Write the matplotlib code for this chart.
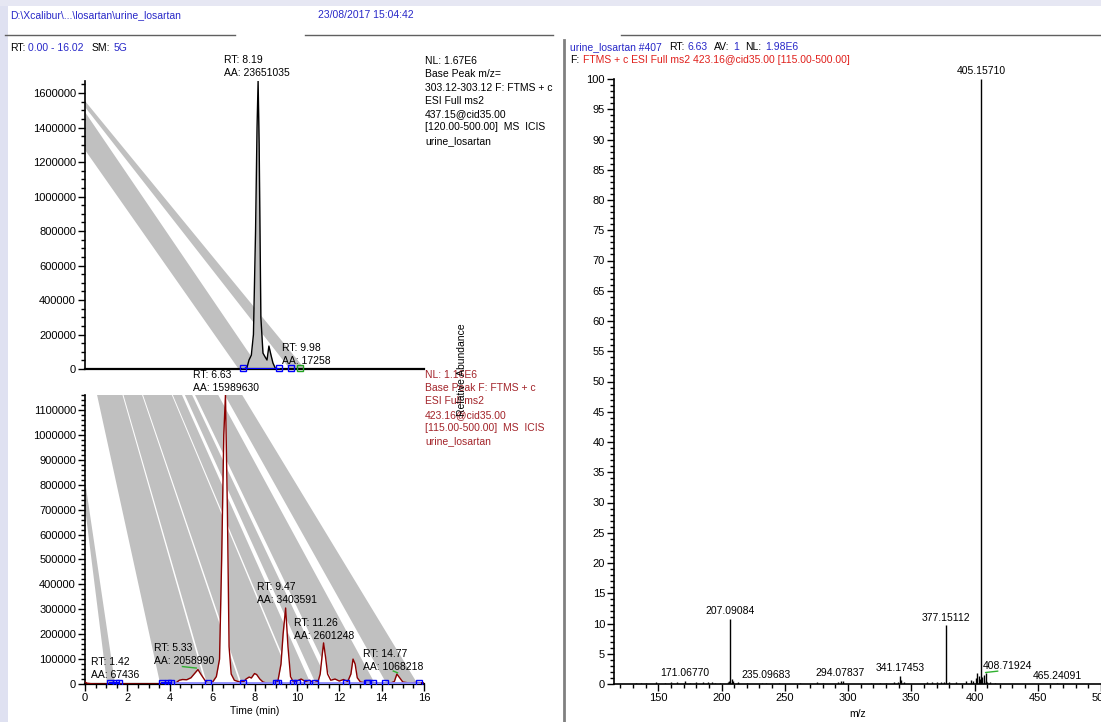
import matplotlib
matplotlib.use("Agg")
import matplotlib.pyplot as plt
from matplotlib.ticker import MultipleLocator
from matplotlib.patches import Polygon, Rectangle
from matplotlib.lines import Line2D

plt.rcParams['font.family'] = ['Liberation Sans', 'DejaVu Sans']
plt.rcParams['font.size'] = 7.5

W, H = 1101, 722

BLUE = '#2828c8'
DKRED = '#a3242a'
RED = '#e0201c'
GREY = '#c0c0c0'
TRACE_RED = '#8b0000'

# ---- upper chromatogram: base peak m/z 303.12 ----
bp_time = [0, 7.5, 7.65, 7.74, 7.85, 7.95, 8.05, 8.12, 8.17, 8.22, 8.3, 8.4,
           8.5, 8.59, 8.68, 8.78, 8.87, 9.0, 16.0]
bp_int = [0, 0, 10000, 52000, 80000, 200000, 800000, 1400000, 1670000, 1300000,
          300000, 92000, 70000, 52000, 133000, 80000, 35000, 0, 0]
bp_peak_rt = [8.19, 9.98]
bp_peak_aa = [23651035, 17258]
bp_squares = [7.46, 9.17, 9.73]
bp_green = [10.15]
bp_baseline = [7.46, 9.17]

# ---- lower chromatogram: base peak 423.16 ----
lo_time = [0, 0.1, 0.3, 0.6, 1.0, 1.3, 1.42, 1.55, 1.8, 2.5, 3.5, 4.0, 4.3, 4.45,
           4.6, 4.8, 5.0, 5.15, 5.33, 5.5, 5.7, 5.85, 6.0, 6.2, 6.35, 6.45, 6.55,
           6.63, 6.72, 6.8, 6.9, 7.05, 7.3, 7.5, 7.6, 7.75, 7.85, 8.0, 8.1, 8.25,
           8.4, 8.6, 8.9, 9.1, 9.25, 9.35, 9.47, 9.58, 9.7, 9.85, 10.0, 10.2,
           10.4, 10.6, 10.8, 11.0, 11.1, 11.2, 11.26, 11.35, 11.45, 11.6, 11.8,
           12.0, 12.2, 12.4, 12.55, 12.65, 12.75, 12.85, 13.0, 13.3, 13.6, 14.0,
           14.4, 14.6, 14.72, 14.85, 15.0, 15.3, 15.6, 16.0]
lo_int = [8000, 3000, 1000, 0, 0, 1500, 2500, 1500, 500, 0, 0, 1000, 5000, 15000,
          18000, 17000, 25000, 40000, 58000, 35000, 10000, 2000, 5000, 30000,
          100000, 500000, 1000000, 1160000, 700000, 150000, 40000, 15000, 8000,
          10000, 20000, 28000, 24000, 42000, 38000, 20000, 8000, 3000, 1000,
          10000, 80000, 200000, 305000, 150000, 30000, 5000, 12000, 20000, 10000,
          15000, 5000, 10000, 40000, 120000, 165000, 110000, 40000, 15000, 20000,
          12000, 18000, 10000, 40000, 100000, 80000, 25000, 8000, 4000, 5000,
          2000, 3000, 10000, 40000, 25000, 8000, 4000, 6000, 5000]
lo_peak_rt = [1.42, 5.33, 6.63, 9.47, 11.26, 14.77]
lo_peak_aa = [67436, 2058990, 15989630, 3403591, 2601248, 1068218]
lo_squares = [1.2, 1.45, 1.6, 3.65, 3.9, 4.05, 5.8, 7.48, 9.0, 9.12, 9.8, 10.0,
              10.5, 10.85, 12.3, 13.3, 13.38, 13.6, 14.15, 15.75]
lo_baseline_dark = [(1.2, 1.6), (3.65, 4.05)]
lo_baseline_light = (4.05, 15.75)

# ---- grey band artefacts (data units) ----
# upper: (I at t=0 upper edge, t at I=0 upper edge, t at I=0 lower edge, I at t=0 lower edge)
up_bands = [(1.554e6, 10.38, 9.67, 1.519e6),
            (1.49e6, 8.25, 7.25, 1.27e6)]
# lower fan: left edge (top t, bottom t), right edge (top t, bottom t)
fan_left = (0.57, 3.55)
fan_right = (7.42, 15.7)
fan_grey = [(0.0, 0.175), (0.182, 0.31), (0.317, 0.515), (0.522, 0.585),
            (0.605, 0.655), (0.675, 0.835), (0.88, 1.0)]
lo_side_band = (0.816e6, 1.42, 1.04, 0.708e6)

# ---- MS2 spectrum ----
mz = [132.1, 136.0, 140.2, 148.1, 155.0, 160.1, 165.1, 171.0677, 175.1, 180.1,
      185.1, 189.1, 192.1, 195.0, 199.1, 205.1, 206.1, 207.09084, 208.1, 209.1,
      213.1, 220.0, 232.1, 235.09683, 245.1, 262.1, 275.1, 280.1, 292.1,
      294.07837, 296.1, 318.1, 325.1, 330.1, 336.2, 339.2, 341.17453, 342.2,
      344.2, 362.2, 366.1, 370.2, 373.2, 376.1, 377.15112, 380.1, 385.2, 393.2,
      397.2, 399.2, 401.2, 402.2, 403.2, 404.2, 405.1571, 406.2, 407.2,
      408.71924, 409.2, 410.2, 412.2, 416.2, 465.24091]
rel_ab = [0.2, 0.2, 0.2, 0.3, 0.2, 0.3, 0.3, 0.45, 0.2, 0.3, 0.3, 0.4, 0.3, 0.2,
          0.2, 0.4, 0.5, 10.8, 0.8, 0.5, 0.3, 0.2, 0.2, 0.15, 0.2, 0.2, 0.3, 0.2,
          0.3, 0.5, 0.5, 0.2, 0.2, 0.2, 0.3, 0.4, 1.4, 0.6, 0.3, 0.3, 0.3, 0.4,
          0.3, 0.3, 9.7, 0.3, 0.3, 0.5, 0.6, 0.5, 1.0, 1.8, 1.4, 0.9, 100, 1.2,
          1.5, 1.8, 0.5, 0.4, 0.3, 0.2, 0.1]
labelled_mz = [171.0677, 207.09084, 235.09683, 294.07837, 341.17453, 377.15112,
               405.1571, 465.24091]


def fx(x):
    return x / W


def fy(y):
    return 1 - y / H


def box(l, t, r, b):
    return [l / W, 1 - b / H, (r - l) / W, (b - t) / H]


def style_axes(ax):
    for s in ['top', 'right']:
        ax.spines[s].set_visible(False)
    ax.spines['left'].set_linewidth(1.2)
    ax.spines['bottom'].set_linewidth(1.6)
    ax.tick_params(which='major', direction='out', length=5, width=1, pad=1.5,
                   labelsize=8)
    ax.tick_params(which='minor', direction='out', length=3, width=1)
    ax.patch.set_alpha(0)


fig = plt.figure(figsize=(W / 100, H / 100), dpi=100)
fig.patch.set_facecolor('white')
renderer = fig.canvas.get_renderer()


def rich(x, y, parts, size=7.5):
    # coloured pieces on one line; gap = pixels left after each piece
    for s, c, gap in parts:
        t = fig.text(fx(x), fy(y), s, color=c, fontsize=size, va='center', ha='left')
        x = t.get_window_extent(renderer).x1 + gap


fig.patches.append(Rectangle((0, 0), 8 / W, 1, transform=fig.transFigure,
                             facecolor='#dfe1f1', edgecolor='none'))
fig.patches.append(Rectangle((0, 1 - 6 / H), 1, 6 / H, transform=fig.transFigure,
                             facecolor='#e6e7f3', edgecolor='none'))

# separators
fig.add_artist(Line2D([fx(564), fx(564)], [fy(40), 0], color='#808080', lw=2))
for x0, x1 in [(5, 235), (305, 553), (621, 1101)]:
    fig.add_artist(Line2D([fx(x0), fx(x1)], [fy(35), fy(35)], color='#606060', lw=1))

# ---------------- upper chromatogram ----------------
ax1 = fig.add_axes(box(85, 81, 424, 369))
ax1.set_xlim(0, 16)
ax1.set_ylim(0, 1.67e6)
for ia, ta, tb, ib in up_bands:
    ax1.add_patch(Polygon([(0, ia), (ta, 0), (tb, 0), (0, ib)], closed=True,
                          facecolor=GREY, edgecolor='none', zorder=1))
ax1.fill_between(bp_time, bp_int, 0, color=GREY, lw=0, zorder=2)
ax1.plot(bp_time, bp_int, color='black', lw=1, zorder=3)
ax1.plot(bp_baseline, [0, 0], color='blue', lw=1.5, zorder=4)
ax1.plot(bp_squares, [8000] * len(bp_squares), 's', ms=4.5, mfc='none',
         mec='blue', mew=1, zorder=5, clip_on=False)
ax1.plot(bp_green, [8000], 's', ms=4.5, mfc='none', mec='#20a020', mew=1,
         zorder=5, clip_on=False)
style_axes(ax1)
ax1.yaxis.set_major_locator(MultipleLocator(200000))
ax1.yaxis.set_minor_locator(MultipleLocator(50000))
ax1.yaxis.set_major_formatter(plt.FuncFormatter(lambda v, p: f"{v:.0f}"))
ax1.tick_params(axis='x', which='both', bottom=False, labelbottom=False)

# ---------------- lower chromatogram ----------------
ax2 = fig.add_axes(box(85, 395, 424, 684))
ax2.set_xlim(0, 16)
ytop = 1.16e6
ax2.set_ylim(0, ytop)
lt, lb = fan_left
rt, rb = fan_right
for f0, f1 in fan_grey:
    pts = [(lt + f0 * (rt - lt), ytop), (lt + f1 * (rt - lt), ytop),
           (lb + f1 * (rb - lb), 0), (lb + f0 * (rb - lb), 0)]
    ax2.add_patch(Polygon(pts, closed=True, facecolor=GREY, edgecolor='none',
                          zorder=1))
ia, ta, tb, ib = lo_side_band
ax2.add_patch(Polygon([(0, ia), (ta, 0), (tb, 0), (0, ib)], closed=True,
                      facecolor=GREY, edgecolor='none', zorder=1))
ax2.fill_between(lo_time, lo_int, 0, color='white', lw=0, zorder=2)
ax2.plot(lo_time, lo_int, color=TRACE_RED, lw=1, zorder=3)
ax2.plot(lo_baseline_light, [3000, 3000], color='#8c8cff', lw=2, zorder=4)
for a, b in lo_baseline_dark:
    ax2.plot([a, b], [3000, 3000], color='blue', lw=1.5, zorder=4)
ax2.plot(lo_squares, [6000] * len(lo_squares), 's', ms=4.5, mfc='none',
         mec='blue', mew=1, zorder=5)
ax2.plot([4.6, 5.25], [70000, 64000], color='#30b030', lw=1, zorder=5)
ax2.plot([14.55, 14.75], [52000, 45000], color='#30b030', lw=1, zorder=5)
style_axes(ax2)
ax2.yaxis.set_major_locator(MultipleLocator(100000))
ax2.yaxis.set_minor_locator(MultipleLocator(20000))
ax2.yaxis.set_major_formatter(plt.FuncFormatter(lambda v, p: f"{v:.0f}"))
ax2.xaxis.set_major_locator(MultipleLocator(2))
ax2.xaxis.set_minor_locator(MultipleLocator(0.5))
ax2.set_xlabel('Time (min)', fontsize=7.5, labelpad=2)

# ---------------- spectrum ----------------
ax3 = fig.add_axes(box(614, 79, 1101, 684))
ax3.set_xlim(115, 500)
ax3.set_ylim(0, 100)
ax3.vlines(mz, 0, rel_ab, color='black', lw=1)
for m, a in zip(mz, rel_ab):
    if m in labelled_mz:
        ax3.annotate(f"{m:.5f}", (m, a), xytext=(0, 2), textcoords='offset points',
                     ha='center', va='bottom', fontsize=7.5)
ax3.annotate(f"{408.71924:.5f}", (408.71924, 1.9), xytext=(16, 1),
             textcoords='offset points', ha='center', va='bottom', fontsize=7.5,
             arrowprops=dict(arrowstyle='-', color='#30b030', lw=1,
                             shrinkA=0, shrinkB=0, relpos=(0.3, 0)))
style_axes(ax3)
ax3.spines['bottom'].set_linewidth(1.2)
ax3.xaxis.set_major_locator(MultipleLocator(50))
ax3.xaxis.set_minor_locator(MultipleLocator(10))
ax3.yaxis.set_major_locator(MultipleLocator(5))
ax3.yaxis.set_minor_locator(MultipleLocator(1))
ax3.set_xlabel('m/z', fontsize=7.5, labelpad=4)

# ---------------- texts ----------------
T = dict(fontsize=7.5, va='center', ha='left')
fig.text(fx(10), fy(15), 'D:\\Xcalibur\\...\\losartan\\urine_losartan', color=BLUE, **T)
fig.text(fx(318), fy(15), '23/08/2017 15:04:42', color=BLUE, **T)
rich(10, 48, [('RT:', 'black', 3), ('0.00 - 16.02', BLUE, 8), ('SM:', 'black', 3),
              ('5G', BLUE, 0)])
rich(570, 47, [('urine_losartan #407', BLUE, 7), ('RT:', 'black', 3),
               ('6.63', BLUE, 7), ('AV:', 'black', 3), ('1', BLUE, 7),
               ('NL:', 'black', 3), ('1.98E6', BLUE, 0)])
rich(570, 60, [('F:', 'black', 4),
               ('FTMS + c ESI Full ms2 423.16@cid35.00 [115.00-500.00]', RED, 0)])

nl_up = ['NL: 1.67E6', 'Base Peak m/z=', '303.12-303.12 F: FTMS + c',
         'ESI Full ms2', '437.15@cid35.00', '[120.00-500.00]  MS  ICIS',
         'urine_losartan']
for i, s in enumerate(nl_up):
    fig.text(fx(425), fy(61 + i * 13.3), s, color='black', **T)
nl_lo = ['NL: 1.16E6', 'Base Peak F: FTMS + c', 'ESI Full ms2', '423.16@cid35.00',
         '[115.00-500.00]  MS  ICIS', 'urine_losartan']
for i, s in enumerate(nl_lo):
    fig.text(fx(425), fy(374.5 + i * 13.4), s, color=DKRED, **T)

fig.text(fx(462), fy(370), 'Relative Abundance', rotation=90, fontsize=7.5,
         ha='center', va='center', color='black')

up_label_xy = [(224, 60), (282, 348)]
for (x, y), rt_, aa in zip(up_label_xy, bp_peak_rt, bp_peak_aa):
    fig.text(fx(x), fy(y), f"RT: {rt_:.2f}", **T)
    fig.text(fx(x), fy(y + 13), f"AA: {aa}", **T)
lo_label_xy = [(91, 662), (154, 648), (193, 375), (257, 587), (294, 623), (363, 654)]
for (x, y), rt_, aa in zip(lo_label_xy, lo_peak_rt, lo_peak_aa):
    fig.text(fx(x), fy(y), f"RT: {rt_:.2f}", **T)
    fig.text(fx(x), fy(y + 13), f"AA: {aa}", **T)

fig.savefig('out.png', dpi=100, facecolor='white')
